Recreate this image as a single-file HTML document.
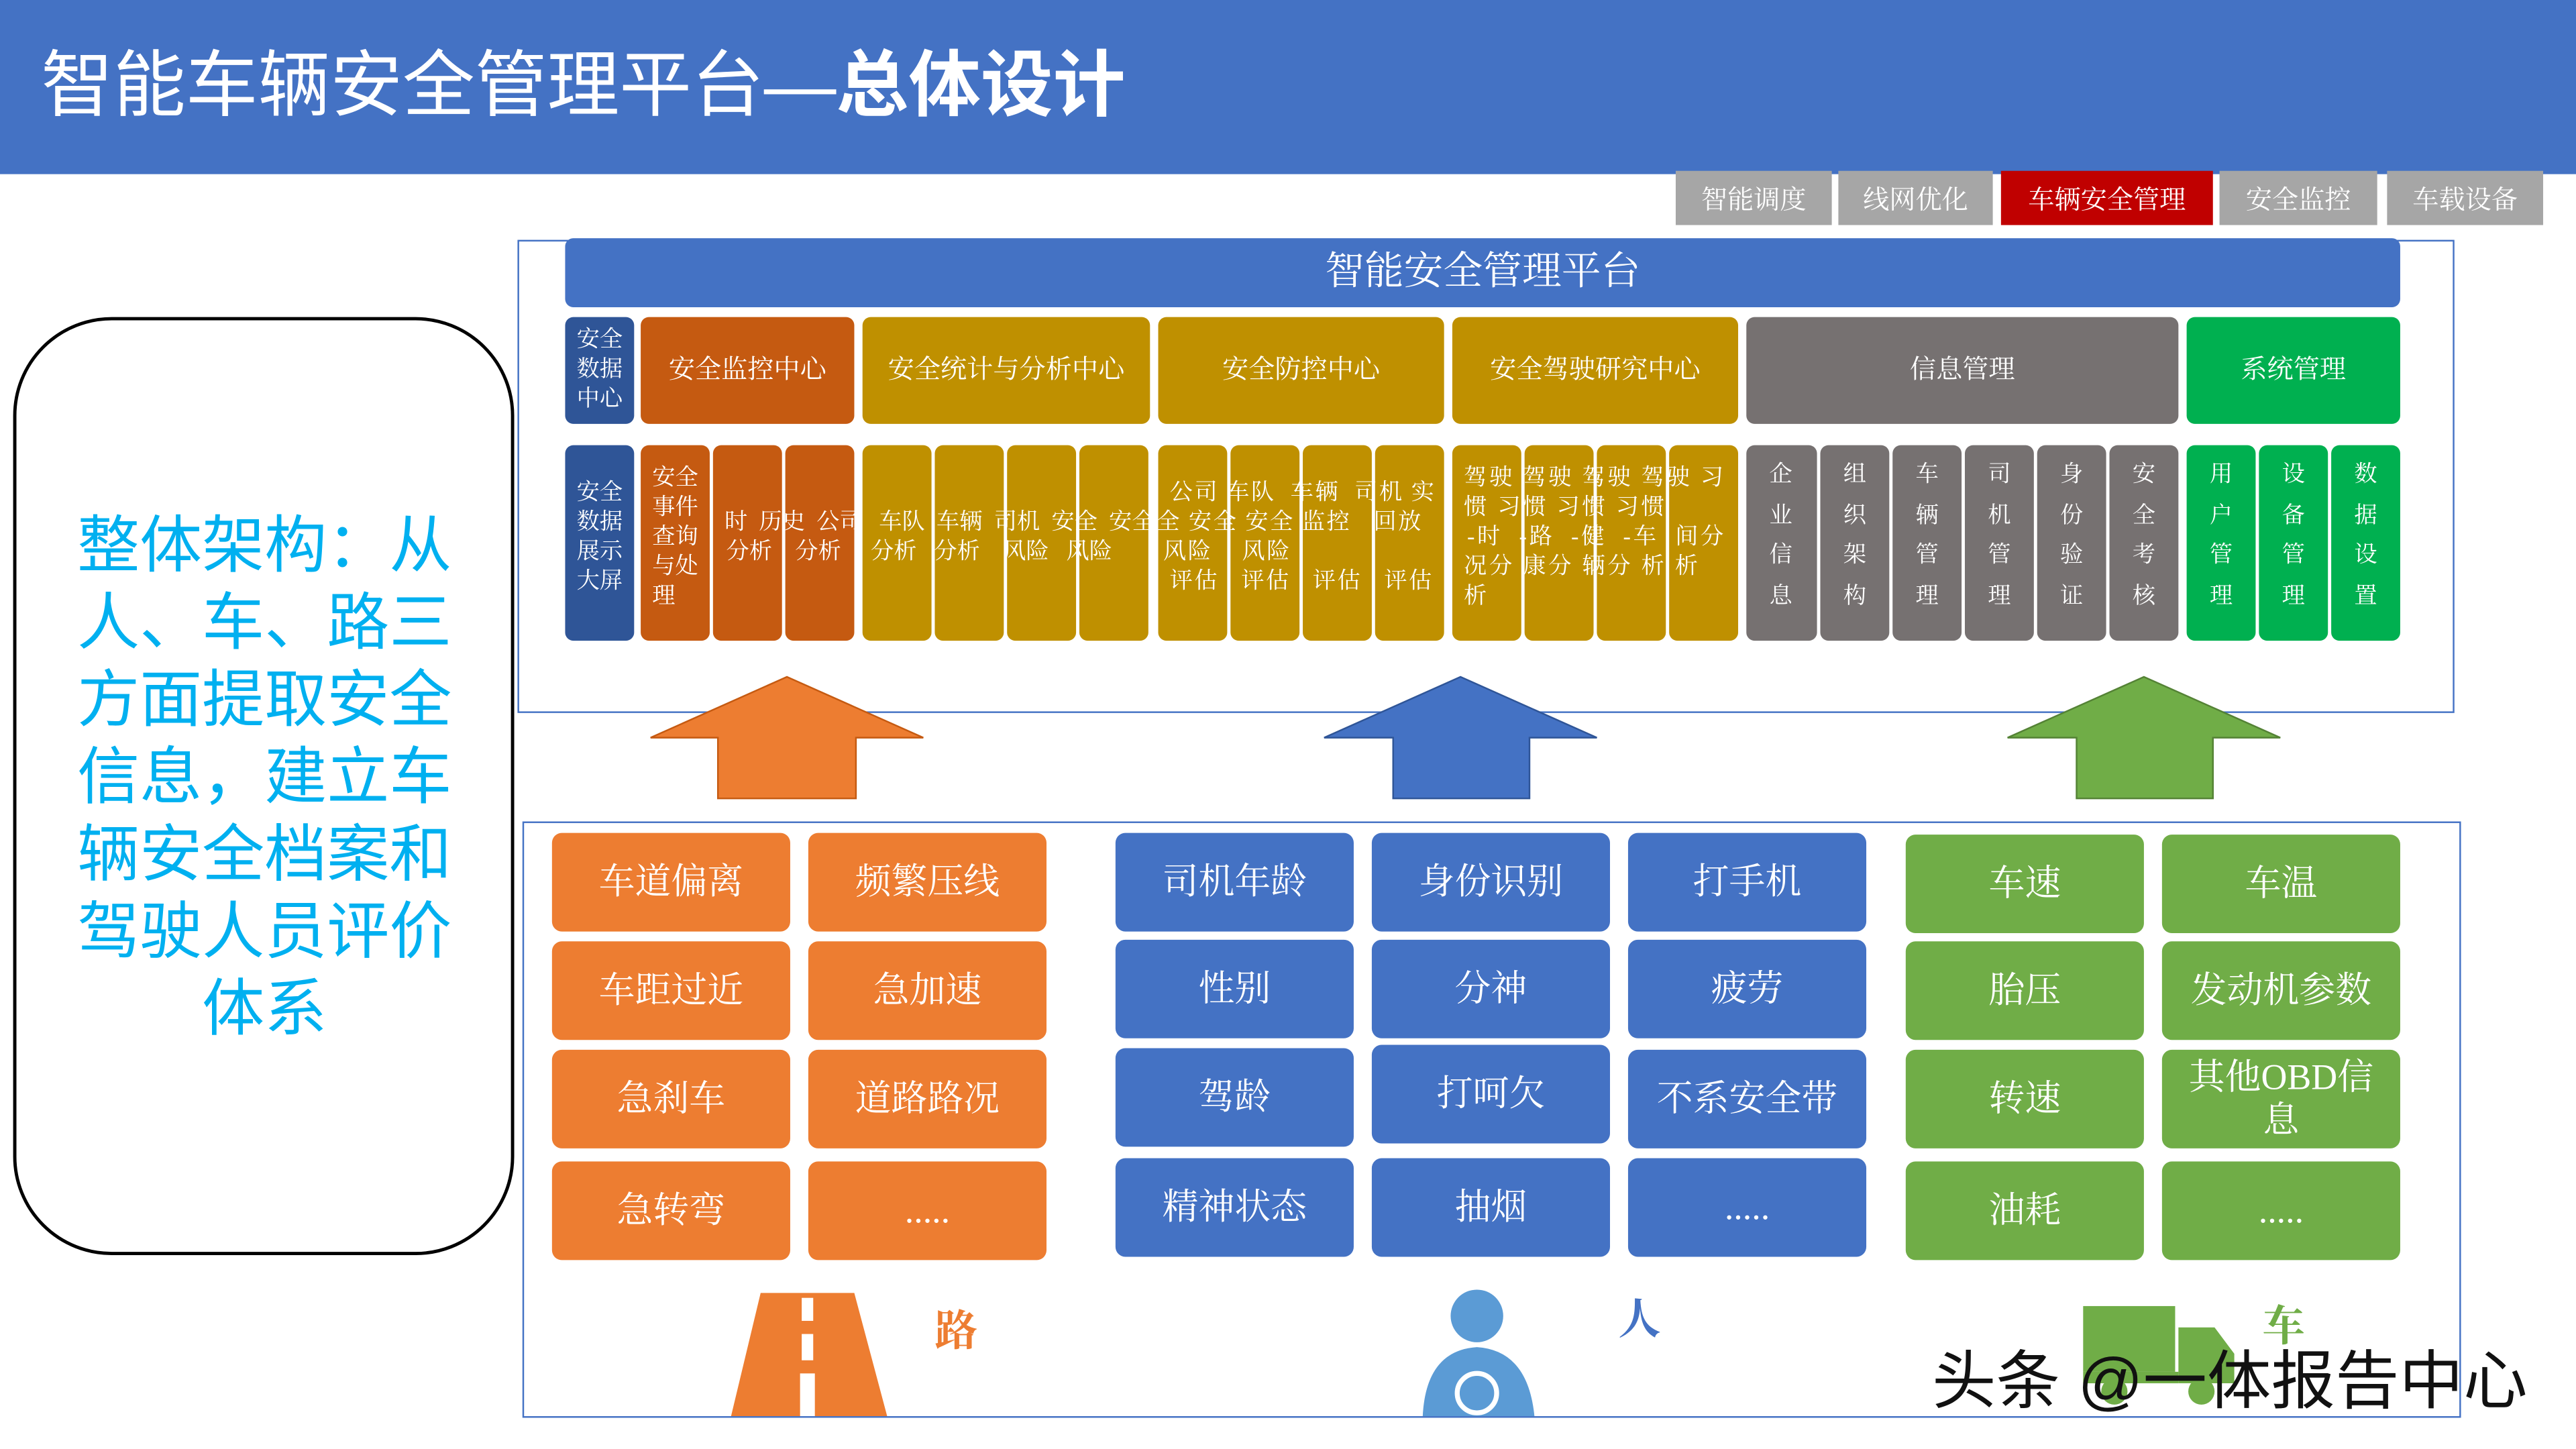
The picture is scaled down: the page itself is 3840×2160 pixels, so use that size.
<!DOCTYPE html>
<html><head><meta charset="utf-8">
<style>
html,body{margin:0;padding:0;width:3840px;height:2160px;overflow:hidden;background:#fff;}
#w{position:absolute;left:0;top:0;width:1568px;height:882px;transform:scale(2.44898);transform-origin:0 0;font-family:"Liberation Serif","Noto Serif CJK SC","Noto Sans CJK SC",serif;}
.a{position:absolute;box-sizing:border-box;}
.c{display:flex;align-items:center;justify-content:center;text-align:center;color:#fff;}
.r{border-radius:5px;}
.t{position:absolute;color:#fff;font-size:14px;line-height:18px;white-space:nowrap;}
.v{position:absolute;color:#fff;font-size:14px;width:42px;text-align:center;line-height:24.5px;top:278px;}
.b{position:absolute;color:#fff;font-size:22px;display:flex;align-items:center;justify-content:center;text-align:center;border-radius:6px;width:145px;height:60px;line-height:26px;}
.tab{position:absolute;top:104px;height:33px;background:#A6A6A6;color:#fff;font-size:16px;display:flex;align-items:center;justify-content:center;}
</style></head><body><div id="w">
<div class="a" style="left:0;top:0;width:1568px;height:106px;background:#4472C4"></div>
<div class="a" style="left:25px;top:16px;color:#fff;font-size:44px;font-family:'Liberation Sans','Noto Sans CJK SC',sans-serif;white-space:nowrap">智能车辆安全管理平台—<b>总体设计</b></div>
<div class="tab" style="left:1020px;width:95px">智能调度</div>
<div class="tab" style="left:1119px;width:94px">线网优化</div>
<div class="tab" style="left:1218px;width:129px;background:#C00000">车辆安全管理</div>
<div class="tab" style="left:1351px;width:96px">安全监控</div>
<div class="tab" style="left:1453px;width:95px">车载设备</div>

<div class="a" style="left:315px;top:146px;width:1179px;height:288px;border:1.5px solid #4472C4"></div>
<div class="a c r" style="left:344px;top:145px;width:1117px;height:42px;background:#4472C4;font-size:24px;padding-bottom:8px">智能安全管理平台</div>

<div class="a c r" style="left:344px;top:193px;width:42px;height:65px;background:#2F5597;font-size:14px;line-height:18px">安全<br>数据<br>中心</div>
<div class="a c r" style="left:390px;top:193px;width:130px;height:65px;background:#C55A11;font-size:16px;padding-bottom:5px">安全监控中心</div>
<div class="a c r" style="left:525px;top:193px;width:175px;height:65px;background:#BF9000;font-size:16px;padding-bottom:5px">安全统计与分析中心</div>
<div class="a c r" style="left:705px;top:193px;width:174px;height:65px;background:#BF9000;font-size:16px;padding-bottom:5px">安全防控中心</div>
<div class="a c r" style="left:884px;top:193px;width:174px;height:65px;background:#BF9000;font-size:16px;padding-bottom:5px">安全驾驶研究中心</div>
<div class="a c r" style="left:1063px;top:193px;width:263px;height:65px;background:#767171;font-size:16px;padding-bottom:5px">信息管理</div>
<div class="a c r" style="left:1331px;top:193px;width:130px;height:65px;background:#00B050;font-size:16px;padding-bottom:5px">系统管理</div>

<div class="a r" style="left:344px;top:271px;width:42px;height:119px;background:#2F5597"></div>
<div class="a r" style="left:390px;top:271px;width:42px;height:119px;background:#C55A11"></div>
<div class="a r" style="left:434px;top:271px;width:42px;height:119px;background:#C55A11"></div>
<div class="a r" style="left:478px;top:271px;width:42px;height:119px;background:#C55A11"></div>
<div class="a r" style="left:525px;top:271px;width:42px;height:119px;background:#BF9000"></div>
<div class="a r" style="left:569px;top:271px;width:42px;height:119px;background:#BF9000"></div>
<div class="a r" style="left:613px;top:271px;width:42px;height:119px;background:#BF9000"></div>
<div class="a r" style="left:657px;top:271px;width:42px;height:119px;background:#BF9000"></div>
<div class="a r" style="left:705px;top:271px;width:42px;height:119px;background:#BF9000"></div>
<div class="a r" style="left:749px;top:271px;width:42px;height:119px;background:#BF9000"></div>
<div class="a r" style="left:793px;top:271px;width:42px;height:119px;background:#BF9000"></div>
<div class="a r" style="left:837px;top:271px;width:42px;height:119px;background:#BF9000"></div>
<div class="a r" style="left:884px;top:271px;width:42px;height:119px;background:#BF9000"></div>
<div class="a r" style="left:928px;top:271px;width:42px;height:119px;background:#BF9000"></div>
<div class="a r" style="left:972px;top:271px;width:42px;height:119px;background:#BF9000"></div>
<div class="a r" style="left:1016px;top:271px;width:42px;height:119px;background:#BF9000"></div>
<div class="a r" style="left:1063px;top:271px;width:43px;height:119px;background:#767171"></div>
<div class="a r" style="left:1108px;top:271px;width:42px;height:119px;background:#767171"></div>
<div class="a r" style="left:1152px;top:271px;width:42px;height:119px;background:#767171"></div>
<div class="a r" style="left:1196px;top:271px;width:42px;height:119px;background:#767171"></div>
<div class="a r" style="left:1240px;top:271px;width:42px;height:119px;background:#767171"></div>
<div class="a r" style="left:1284px;top:271px;width:42px;height:119px;background:#767171"></div>
<div class="a r" style="left:1331px;top:271px;width:42px;height:119px;background:#00B050"></div>
<div class="a r" style="left:1375px;top:271px;width:42px;height:119px;background:#00B050"></div>
<div class="a r" style="left:1419px;top:271px;width:42px;height:119px;background:#00B050"></div>

<div class="t" style="left:351px;top:292px">安全<br>数据<br>展示<br>大屏</div>
<div class="t" style="left:397px;top:283px">安全<br>事件<br>查询<br>与处<br>理</div>
<div class="t" style="left:441px;top:310px">时&nbsp;&nbsp;历史&nbsp;&nbsp;公司</div>
<div class="t" style="left:442px;top:328px">分析&nbsp;&nbsp;&nbsp;&nbsp;分析</div>
<div class="t" style="left:535px;top:310px">车队&nbsp;&nbsp;车辆&nbsp;&nbsp;司机&nbsp;&nbsp;安全&nbsp;&nbsp;安全</div>
<div class="t" style="left:530px;top:328px">分析&nbsp;&nbsp;&nbsp;分析&nbsp;&nbsp;&nbsp;&nbsp;风险&nbsp;&nbsp;&nbsp;风险</div>
<div class="t" style="left:712px;top:292px;letter-spacing:1px">公司&nbsp;车队&nbsp;&nbsp;车辆&nbsp;&nbsp;司机&nbsp;实</div>
<div class="t" style="left:704px;top:310px;letter-spacing:1px">全&nbsp;安全&nbsp;安全&nbsp;监控&nbsp;&nbsp;&nbsp;回放</div>
<div class="t" style="left:708px;top:328px;letter-spacing:1px">风险&nbsp;&nbsp;&nbsp;&nbsp;风险</div>
<div class="t" style="left:712px;top:346px;letter-spacing:1px">评估&nbsp;&nbsp;&nbsp;评估&nbsp;&nbsp;&nbsp;评估&nbsp;&nbsp;&nbsp;评估</div>
<div class="t" style="left:891px;top:283px;letter-spacing:1.5px">驾驶&nbsp;驾驶&nbsp;驾驶&nbsp;驾驶&nbsp;习</div>
<div class="t" style="left:891px;top:301px;letter-spacing:1.5px">惯&nbsp;习惯&nbsp;习惯&nbsp;习惯</div>
<div class="t" style="left:893px;top:319px;letter-spacing:1.5px">-时&nbsp;&nbsp;-路&nbsp;&nbsp;-健&nbsp;&nbsp;-车&nbsp;&nbsp;间分</div>
<div class="t" style="left:891px;top:337px;letter-spacing:1.5px">况分&nbsp;康分&nbsp;辆分&nbsp;析&nbsp;析</div>
<div class="t" style="left:891px;top:355px">析</div>

<div class="v" style="left:1063px">企<br>业<br>信<br>息</div>
<div class="v" style="left:1108px">组<br>织<br>架<br>构</div>
<div class="v" style="left:1152px">车<br>辆<br>管<br>理</div>
<div class="v" style="left:1196px">司<br>机<br>管<br>理</div>
<div class="v" style="left:1240px">身<br>份<br>验<br>证</div>
<div class="v" style="left:1284px">安<br>全<br>考<br>核</div>
<div class="v" style="left:1331px">用<br>户<br>管<br>理</div>
<div class="v" style="left:1375px">设<br>备<br>管<br>理</div>
<div class="v" style="left:1419px">数<br>据<br>设<br>置</div>

<svg class="a" style="left:0;top:0" width="1568" height="882">
<polygon points="479,412 562,449 521,449 521,486 437,486 437,449 396,449" fill="#ED7D31" stroke="#C55A11" stroke-width="1"/>
<polygon points="889,412 972,449 931,449 931,486 848,486 848,449 806,449" fill="#4472C4" stroke="#2F5597" stroke-width="1"/>
<polygon points="1305,412 1388,449 1347,449 1347,486 1264,486 1264,449 1222,449" fill="#70AD47" stroke="#548235" stroke-width="1"/>
<polygon points="463,787 520,787 540,862 445,862" fill="#ED7D31"/>
<rect x="488" y="790" width="7" height="14" fill="#fff"/><rect x="488" y="812" width="7" height="16" fill="#fff"/><rect x="487" y="836" width="9" height="26" fill="#fff"/>
<circle cx="899" cy="801" r="16" fill="#5B9BD5"/>
<path d="M866,862 Q868,822 899,820 Q930,822 934,862 Z" fill="#5B9BD5"/>
<circle cx="899" cy="848" r="12" fill="none" stroke="#fff" stroke-width="3"/>
<rect x="1268" y="795" width="56" height="40" fill="#70AD47"/>
<path d="M1326,808 L1348,808 L1360,824 L1360,842 L1326,842 Z" fill="#70AD47"/>
<rect x="1268" y="835" width="58" height="7" fill="#70AD47"/>
<circle cx="1287" cy="847" r="8" fill="#70AD47"/><circle cx="1340" cy="847" r="8" fill="#70AD47"/>
</svg>

<div class="a" style="left:8px;top:193px;width:305px;height:571px;border:2px solid #000;border-radius:60px"></div>
<div class="a" style="left:36px;top:310px;width:250px;color:#00B0F0;font-size:38px;line-height:47px;text-align:center;font-family:'Liberation Sans','Noto Sans CJK SC',sans-serif">整体架构：从人、车、路三方面提取安全信息，建立车辆安全档案和驾驶人员评价体系</div>

<div class="a" style="left:318px;top:500px;width:1180px;height:363px;border:1.5px solid #4472C4"></div>

<div class="b" style="left:336px;top:507px;background:#ED7D31">车道偏离</div>
<div class="b" style="left:492px;top:507px;background:#ED7D31">频繁压线</div>
<div class="b" style="left:336px;top:573px;background:#ED7D31">车距过近</div>
<div class="b" style="left:492px;top:573px;background:#ED7D31">急加速</div>
<div class="b" style="left:336px;top:639px;background:#ED7D31">急刹车</div>
<div class="b" style="left:492px;top:639px;background:#ED7D31">道路路况</div>
<div class="b" style="left:336px;top:707px;background:#ED7D31">急转弯</div>
<div class="b" style="left:492px;top:707px;background:#ED7D31">.....</div>

<div class="b" style="left:679px;top:507px;background:#4472C4">司机年龄</div>
<div class="b" style="left:835px;top:507px;background:#4472C4">身份识别</div>
<div class="b" style="left:991px;top:507px;background:#4472C4">打手机</div>
<div class="b" style="left:679px;top:572px;background:#4472C4">性别</div>
<div class="b" style="left:835px;top:572px;background:#4472C4">分神</div>
<div class="b" style="left:991px;top:572px;background:#4472C4">疲劳</div>
<div class="b" style="left:679px;top:638px;background:#4472C4">驾龄</div>
<div class="b" style="left:835px;top:636px;background:#4472C4">打呵欠</div>
<div class="b" style="left:991px;top:639px;background:#4472C4">不系安全带</div>
<div class="b" style="left:679px;top:705px;background:#4472C4">精神状态</div>
<div class="b" style="left:835px;top:705px;background:#4472C4">抽烟</div>
<div class="b" style="left:991px;top:705px;background:#4472C4">.....</div>

<div class="b" style="left:1160px;top:508px;background:#70AD47">车速</div>
<div class="b" style="left:1316px;top:508px;background:#70AD47">车温</div>
<div class="b" style="left:1160px;top:573px;background:#70AD47">胎压</div>
<div class="b" style="left:1316px;top:573px;background:#70AD47">发动机参数</div>
<div class="b" style="left:1160px;top:639px;background:#70AD47">转速</div>
<div class="b" style="left:1316px;top:639px;background:#70AD47">其他OBD信<br>息</div>
<div class="b" style="left:1160px;top:707px;background:#70AD47">油耗</div>
<div class="b" style="left:1316px;top:707px;background:#70AD47">.....</div>

<div class="a" style="left:569px;top:790px;color:#ED7D31;font-size:26px;font-weight:bold">路</div>
<div class="a" style="left:985px;top:783px;color:#4472C4;font-size:26px;font-weight:bold">人</div>
<div class="a" style="left:1377px;top:787px;color:#70AD47;font-size:26px;font-weight:bold">车</div>
<div class="a" style="left:1176px;top:810px;color:#111;font-size:39px;white-space:nowrap;font-family:'Liberation Sans','Noto Sans CJK SC',sans-serif">头条 @一体报告中心</div>
</div></body></html>
